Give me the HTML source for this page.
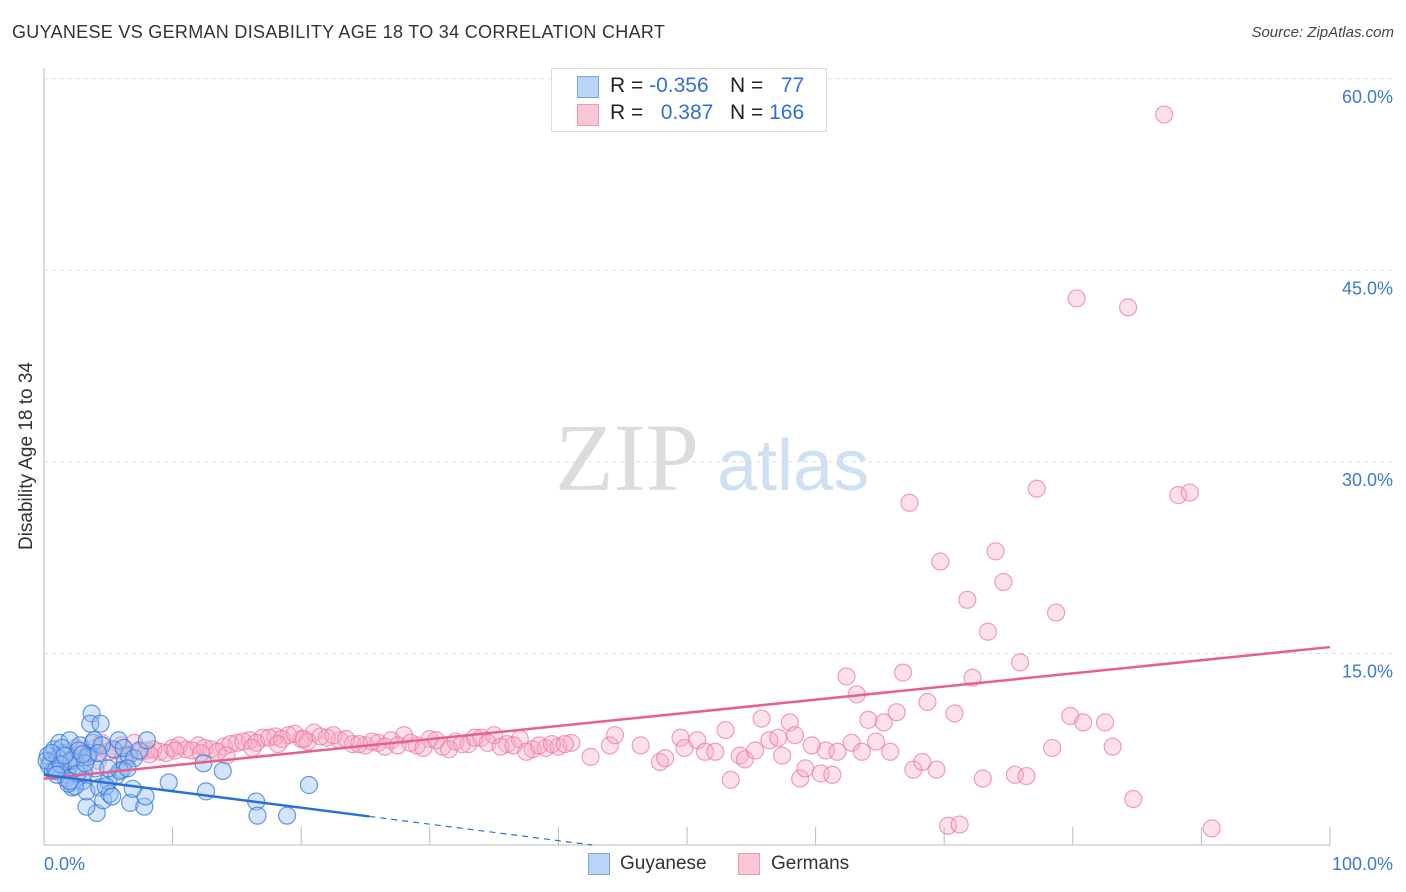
<!DOCTYPE html>
<html><head><meta charset="utf-8">
<style>
body{margin:0;background:#fff;font-family:"Liberation Sans",sans-serif;}
#wrap{position:relative;width:1406px;height:892px;overflow:hidden;}
.t{position:absolute;white-space:nowrap;}
</style></head>
<body>
<div id="wrap">
<div class="t" style="left:12px;top:22px;font-size:18px;color:#333;letter-spacing:0.3px">GUYANESE VS GERMAN DISABILITY AGE 18 TO 34 CORRELATION CHART</div>
<div class="t" style="right:12px;top:24px;font-size:15px;color:#444;font-style:italic">Source: ZipAtlas.com</div>
<div class="t" style="left:-73px;top:445px;width:200px;text-align:center;font-size:19px;color:#333;transform:rotate(-90deg)">Disability Age 18 to 34</div>
<svg id="plot" width="1406" height="892" style="position:absolute;left:0;top:0"></svg>
<div style="position:absolute;left:551px;top:68px;width:274px;height:62px;border:1px solid #ddd;background:#fff;font-size:21px;color:#222">
 <div style="position:absolute;left:25px;top:7px;width:20px;height:20px;background:#b9d4f5;border:1px solid #7aa6e6"></div>
 <div class="t" style="left:58px;top:5px">R = <span style="color:#2f6fd6">-0.356</span></div>
 <div class="t" style="left:178px;top:5px">N = <span style="color:#2f6fd6">&nbsp;&nbsp;77</span></div>
 <div style="position:absolute;left:25px;top:35px;width:20px;height:20px;background:#f9c6d4;border:1px solid #ee9ab3"></div>
 <div class="t" style="left:58px;top:32px">R = <span style="color:#2f6fd6">&nbsp;&nbsp;0.387</span></div>
 <div class="t" style="left:178px;top:32px">N = <span style="color:#2f6fd6">166</span></div>
</div>
<div>
 <div style="position:absolute;left:588px;top:853px;width:20px;height:20px;background:#b9d4f5;border:1px solid #7aa6e6"></div>
 <div class="t" style="left:620px;top:853px;font-size:19px;color:#333">Guyanese</div>
 <div style="position:absolute;left:738px;top:853px;width:20px;height:20px;background:#f9c6d4;border:1px solid #ee9ab3"></div>
 <div class="t" style="left:771px;top:853px;font-size:19px;color:#333">Germans</div>
</div>
</div>
<script>
const yTicks=[15,30,45,60];
const yTickLabels=["15.0%","30.0%","45.0%","60.0%"];
const xTickLabels=["0.0%","100.0%"];
const guyX=[3.7,3.6,4.4,12.4,13.9,9.7,12.6,16.5,16.6,18.9,20.6,6.7,7.8,4.1,3.3,7.9,6.1,2.2,
0.3,0.5,0.8,1.0,1.2,1.5,1.8,2.0,2.3,2.5,2.8,3.0,3.3,3.5,3.8,4.0,4.3,4.6,5.0,5.4,5.8,6.3,6.6,6.9,0.4,0.7,1.1,1.4,1.7,2.1,2.4,2.7,3.1,3.4,3.9,4.5,5.1,5.6,6.2,7.0,0.2,0.6,0.9,1.3,1.6,1.9,2.6,3.2,4.2,4.8,5.3,5.9,6.5,1.0,2.0,3.0,5.0,7.4,8.0];
const guyY=[10.3,9.5,9.5,6.4,5.8,4.9,4.2,3.4,2.3,2.3,4.7,3.3,3.0,2.5,3.0,3.8,5.9,4.5,
7.0,6.5,7.5,6.0,8.0,7.2,5.5,8.2,6.8,6.2,7.8,5.0,4.2,7.2,8.0,6.0,4.5,3.5,5.0,7.5,8.2,6.5,7.0,4.4,6.2,5.8,6.8,7.6,5.2,6.6,4.6,7.4,5.6,6.9,8.2,7.8,4.0,5.4,7.6,6.8,6.6,7.2,5.8,6.3,7.0,4.8,5.6,6.4,7.2,4.6,3.8,5.8,6.0,5.5,5.0,7.1,6.0,7.4,8.2];
const gerX=[1,2,3,4,5,6,7,8,9,10,11,12,13,14,15,16,17,18,19,20,21,22,23,24,25,26,27,28,29,30,31,32,33,34,35,36,37,38,39,40,41,1.5,2.5,3.5,4.5,5.5,6.5,7.5,8.5,9.5,10.5,11.5,12.5,13.5,14.5,15.5,16.5,17.5,18.5,19.5,20.5,21.5,22.5,23.5,24.5,25.5,26.5,27.5,28.5,29.5,30.5,31.5,32.5,33.5,34.5,35.5,36.5,37.5,38.5,39.5,40.5,2.2,4.2,6.2,8.2,10.2,12.2,14.2,16.2,18.2,20.2,
42.5,44,44.4,46.4,47.9,48.3,49.5,49.8,50.8,51.4,52.2,53,53.4,54.1,54.5,55.3,55.8,56.4,57.1,57.4,58,58.4,58.8,59.2,59.7,60.4,60.8,61.3,61.7,62.4,62.8,63.2,63.6,64.1,64.7,65.3,65.8,66.3,66.8,67.3,67.6,68.3,68.7,69.4,69.7,70.3,70.8,71.2,71.8,72.2,73,73.4,74,74.6,75.5,75.9,76.4,77.2,78.4,78.7,79.8,80.3,80.8,82.5,83.1,84.3,84.7,87.1,88.2,89.1,90.8];
const gerY=[7.0,6.6,7.2,7.6,7.3,7.8,8.0,7.4,7.3,7.6,7.5,7.8,7.5,7.7,8.0,8.2,8.4,8.5,8.6,8.3,8.8,8.4,8.2,7.9,7.8,8.0,8.2,8.6,7.8,8.3,7.7,8.1,7.9,8.4,8.6,7.9,8.3,7.5,7.6,7.7,8.0,6.4,7.6,7.0,8.0,7.4,7.1,7.3,7.5,7.2,7.8,7.4,7.6,7.3,7.9,8.1,8.0,8.4,8.3,8.7,8.1,8.5,8.6,8.3,7.9,8.1,7.7,7.8,8.0,7.6,8.2,7.5,7.9,8.4,8.0,7.7,7.8,7.3,7.8,7.9,7.9,6.8,6.6,6.9,7.1,7.4,7.2,7.0,7.6,7.9,8.3,
6.9,7.8,8.6,7.8,6.5,6.8,8.4,7.6,8.2,7.3,7.3,9.0,5.1,7.0,6.7,7.4,9.9,8.2,8.4,7.0,9.6,8.6,5.2,6.0,7.8,5.6,7.4,5.5,7.3,13.2,8.0,11.8,7.3,9.8,8.1,9.6,7.3,10.4,13.5,26.8,5.9,6.5,11.2,5.9,22.2,1.5,10.3,1.6,19.2,13.1,5.2,16.7,23.0,20.6,5.5,14.3,5.4,27.9,7.6,18.2,10.1,42.8,9.6,9.6,7.7,42.1,3.6,57.2,27.4,27.6,1.3];
const guyTrend=[5.5,-0.129];   // intercept, slope
const gerTrend=[5.2,0.103];
const X0=44,X1=1330,Y0=845,PXPER=12.77;
const sx=v=>X0+(X1-X0)*v/100, sy=v=>Y0-v*PXPER;
const svg=document.getElementById('plot'),NS='http://www.w3.org/2000/svg';
function mk(t,a,p){const e=document.createElementNS(NS,t);for(const k in a)e.setAttribute(k,a[k]);(p||svg).appendChild(e);return e;}
let wm=mk('text',{x:555,y:490,'font-size':96,fill:'#dcdcdc','font-family':'Liberation Serif,serif'});wm.textContent='ZIP';


let wm2=mk('text',{x:717,y:490,'font-size':72,fill:'#cfe0f3','font-family':'Liberation Sans,sans-serif'});wm2.textContent='atlas';


yTicks.forEach((v,i)=>{
 const g=mk('line',{x1:X0,x2:1392,y1:sy(v),y2:sy(v),stroke:'#ddd','stroke-dasharray':'4,4'});
 
 
 const t=mk('text',{x:1393,y:sy(v)+24,'text-anchor':'end','font-size':18,fill:'#3b78d8'});t.textContent=yTickLabels[i];
 
 
});
mk('line',{x1:X0,x2:X0,y1:68,y2:Y0,stroke:'#bbb'});
mk('line',{x1:X0,x2:X1,y1:Y0,y2:Y0,stroke:'#bbb'});
for(let i=1;i<=10;i++){mk('line',{x1:sx(i*10),x2:sx(i*10),y1:Y0-18,y2:Y0,stroke:'#bbb'});}
const xl=mk('text',{x:44,y:870,'font-size':18,fill:'#3b78d8'});xl.textContent=xTickLabels[0];


const xr=mk('text',{x:1393,y:870,'text-anchor':'end','font-size':18,fill:'#3b78d8'});xr.textContent=xTickLabels[1];


gerX.forEach((x,i)=>{const c=mk('circle',{cx:sx(x),cy:sy(gerY[i]),r:8.5,fill:'rgba(247,170,195,0.35)',stroke:'rgba(236,120,155,0.7)','stroke-width':1.2});
 
 });
guyX.forEach((x,i)=>{const c=mk('circle',{cx:sx(x),cy:sy(guyY[i]),r:8.5,fill:'rgba(150,190,240,0.4)',stroke:'rgba(50,120,220,0.75)','stroke-width':1.2});
 
 });
const gl=mk('line',{x1:sx(0),y1:sy(gerTrend[0]),x2:sx(100),y2:sy(gerTrend[0]+gerTrend[1]*100),stroke:'#e8608a','stroke-width':2.5});


const bl=mk('line',{x1:sx(0),y1:sy(guyTrend[0]),x2:sx(25.3),y2:sy(guyTrend[0]+guyTrend[1]*25.3),stroke:'#2a6fd8','stroke-width':2.5});


const xe=-guyTrend[0]/guyTrend[1];
const bd=mk('line',{x1:sx(25.3),y1:sy(guyTrend[0]+guyTrend[1]*25.3),x2:sx(xe),y2:sy(0),stroke:'#2a6fd8','stroke-width':1.2,'stroke-dasharray':'6,5'});


</script>
</body></html>
